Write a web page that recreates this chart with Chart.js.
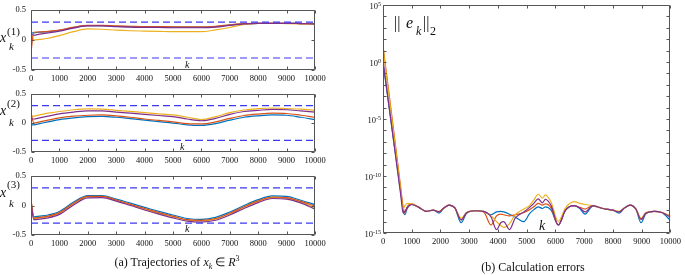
<!DOCTYPE html>
<html lang="en">
<head>
<meta charset="UTF-8">
<title>Trajectories and calculation errors</title>
<style>
    body { margin: 0; background: #fff; font-family: 'Liberation Serif', 'Times New Roman', serif; color: #111; }
    .stage { position: relative; width: 685px; height: 275px; overflow: hidden; }
    .box { position: absolute; }
    .txt { position: absolute; line-height: 1; white-space: nowrap; }
    .it { font-style: italic; }
</style>
</head>
<body>
<div class="stage">
    <div class="box" style="left:0;top:0;width:330px;height:86px"><canvas id="x1Chart"></canvas></div>
    <div class="box" style="left:0;top:84px;width:330px;height:84px"><canvas id="x2Chart"></canvas></div>
    <div class="box" style="left:0;top:166px;width:330px;height:85px"><canvas id="x3Chart"></canvas></div>
    <div class="box" style="left:330px;top:0;width:355px;height:250px"><canvas id="errChart"></canvas></div>

    <!-- axis labels -->
    <span class="txt it" style="left:0;top:31.3px;font-size:14px">x</span>
    <span class="txt" style="left:7px;top:25.8px;font-size:11px">(1)</span>
    <span class="txt it" style="left:9px;top:40.8px;font-size:11px">k</span>

    <span class="txt it" style="left:0;top:104.3px;font-size:14px">x</span>
    <span class="txt" style="left:7px;top:97.8px;font-size:11px">(2)</span>
    <span class="txt it" style="left:9px;top:117.3px;font-size:11px">k</span>

    <span class="txt it" style="left:0;top:186.3px;font-size:14px">x</span>
    <span class="txt" style="left:7px;top:178.8px;font-size:11px">(3)</span>
    <span class="txt it" style="left:9px;top:198.3px;font-size:11px">k</span>

    <span class="txt it" style="left:185px;top:59.6px;font-size:10px">k</span>
    <span class="txt it" style="left:180px;top:141.6px;font-size:10px">k</span>
    <span class="txt it" style="left:185px;top:223.6px;font-size:10px">k</span>
    <span class="txt it" style="left:539px;top:219px;font-size:14px">k</span>

    <span class="txt" style="left:394px;top:15px;font-size:16px">||</span>
    <span class="txt it" style="left:406px;top:15px;font-size:16px">e</span>
    <span class="txt it" style="left:416px;top:25px;font-size:12px">k</span>
    <span class="txt" style="left:423px;top:15px;font-size:16px">||</span>
    <span class="txt" style="left:430px;top:25px;font-size:12px">2</span>

    <!-- captions -->
    <div class="txt" style="left:0;width:354px;top:255px;font-size:12px;text-align:center">(a) Trajectories of <i>x<sub style="font-size:8px">k</sub></i> &isin; <i>R</i><sup style="font-size:8px">3</sup></div>
    <div class="txt" style="left:330px;width:406px;top:261px;font-size:12px;text-align:center">(b) Calculation errors</div>
</div>

<script src="https://cdn.jsdelivr.net/npm/chart.js@4.4.0/dist/chart.umd.min.js"></script>
<script>
    // sample points along k for the trajectories
    const kSteps = [0, 100, 300, 600, 1000, 1500, 2000, 2500, 3000, 3500, 4000, 4500, 5000, 5500, 6000, 6500, 7000, 7500, 8000, 8500, 9000, 9500, 10000];

    const x1Blue   = [0.12, 0.12, 0.13, 0.14, 0.16, 0.21, 0.24, 0.24, 0.23, 0.225, 0.22, 0.22, 0.215, 0.215, 0.215, 0.225, 0.25, 0.27, 0.28, 0.28, 0.28, 0.275, 0.27];
    const x1Red    = [-0.2, 0.13, 0.135, 0.145, 0.165, 0.215, 0.245, 0.245, 0.235, 0.23, 0.225, 0.225, 0.22, 0.22, 0.22, 0.23, 0.255, 0.275, 0.28, 0.28, 0.28, 0.275, 0.27];
    const x1Yellow = [0.12, 0.0, 0.01, 0.03, 0.075, 0.14, 0.185, 0.18, 0.165, 0.155, 0.15, 0.145, 0.14, 0.14, 0.14, 0.17, 0.21, 0.26, 0.28, 0.28, 0.275, 0.27, 0.265];
    const x1Purple = [0.1, 0.08, 0.1, 0.12, 0.15, 0.2, 0.235, 0.235, 0.225, 0.215, 0.21, 0.21, 0.205, 0.205, 0.205, 0.215, 0.245, 0.27, 0.28, 0.28, 0.28, 0.275, 0.27];

    const x2Blue   = [-0.03, -0.03, -0.01, 0.02, 0.06, 0.09, 0.11, 0.115, 0.1, 0.075, 0.05, 0.025, 0.0, -0.03, -0.04, -0.01, 0.05, 0.1, 0.125, 0.14, 0.135, 0.1, 0.06];
    const x2Red    = [0.17, 0.0, 0.02, 0.05, 0.09, 0.12, 0.135, 0.14, 0.125, 0.1, 0.07, 0.045, 0.02, -0.01, -0.015, 0.02, 0.08, 0.13, 0.155, 0.17, 0.165, 0.135, 0.1];
    const x2Yellow = [0.12, 0.12, 0.14, 0.17, 0.2, 0.23, 0.245, 0.24, 0.22, 0.2, 0.18, 0.16, 0.14, 0.1, 0.06, 0.11, 0.18, 0.225, 0.25, 0.26, 0.25, 0.24, 0.22];
    const x2Purple = [0.07, 0.07, 0.09, 0.12, 0.16, 0.19, 0.21, 0.21, 0.19, 0.17, 0.15, 0.13, 0.11, 0.07, 0.04, 0.08, 0.15, 0.2, 0.22, 0.235, 0.23, 0.21, 0.19];

    const x3Blue   = [0.08, -0.19, -0.18, -0.16, -0.1, 0.06, 0.17, 0.17, 0.11, 0.04, -0.03, -0.1, -0.16, -0.22, -0.235, -0.2, -0.11, 0.0, 0.1, 0.165, 0.155, 0.09, 0.015];
    const x3Red    = [0.1, -0.21, -0.2, -0.18, -0.12, 0.04, 0.155, 0.155, 0.095, 0.02, -0.05, -0.12, -0.18, -0.24, -0.25, -0.22, -0.13, -0.02, 0.08, 0.145, 0.135, 0.07, -0.01];
    const x3Yellow = [0.09, -0.22, -0.21, -0.19, -0.13, 0.03, 0.145, 0.15, 0.09, 0.015, -0.06, -0.13, -0.19, -0.245, -0.26, -0.23, -0.14, -0.03, 0.07, 0.135, 0.125, 0.06, -0.04];
    const x3Purple = [0.05, -0.24, -0.23, -0.21, -0.15, 0.01, 0.13, 0.135, 0.075, 0.0, -0.075, -0.145, -0.21, -0.265, -0.28, -0.25, -0.16, -0.05, 0.05, 0.12, 0.11, 0.045, -0.06];

    // constraint bounds (dashed lines)
    const boundVals = [0.3, -0.3];
    const boundK = [0, 10000];

    // calculation errors, stored as log10 of ||e_k||_2
    const errK = [0, 350, 620, 700, 760, 850, 1000, 1250, 1500, 1750, 1950, 2100, 2300, 2500, 2720, 2900, 3200, 3500, 3760, 3950, 4100, 4200, 4400, 4600, 4900, 5100, 5250, 5400, 5550, 5650, 5850, 6100, 6350, 6650, 6850, 7030, 7300, 7650, 8000, 8220, 8400, 8600, 8800, 8980, 9150, 9440, 9700, 10000];
    const errBlueLog   = [0.0, -6.5, -11.5, -13.0, -13.4, -12.8, -12.5, -12.75, -13.1, -13.0, -13.25, -12.85, -12.55, -12.8, -14.1, -13.3, -13.05, -13.1, -13.4, -13.15, -13.1, -13.15, -13.35, -13.6, -14.0, -13.3, -12.95, -12.7, -12.85, -12.7, -13.0, -14.3, -13.0, -12.6, -12.85, -13.35, -12.65, -12.85, -13.0, -13.25, -12.8, -12.55, -12.9, -14.1, -13.3, -13.1, -13.2, -13.9];
    const errRedLog    = [1.4, -5.6, -11.1, -12.7, -13.25, -12.65, -12.45, -12.75, -13.1, -13.0, -13.15, -12.85, -12.55, -12.8, -13.85, -13.25, -13.05, -13.15, -14.3, -13.5, -13.35, -13.4, -13.5, -13.4, -13.2, -12.95, -12.7, -12.4, -12.55, -12.45, -12.8, -14.3, -13.0, -12.6, -12.75, -12.9, -12.6, -12.85, -13.0, -13.15, -12.8, -12.55, -12.9, -13.8, -13.25, -13.1, -13.2, -13.5];
    const errYellowLog = [1.2, -5.85, -11.3, -12.9, -12.6, -12.4, -12.45, -12.75, -13.1, -13.0, -13.1, -12.85, -12.55, -12.8, -13.7, -13.2, -13.05, -13.1, -13.5, -14.0, -14.35, -14.5, -14.2, -13.4, -12.9, -12.6, -12.1, -11.6, -11.95, -11.65, -12.3, -14.0, -12.8, -12.25, -12.4, -12.5, -12.6, -12.85, -13.0, -13.1, -12.8, -12.55, -12.9, -13.7, -13.2, -13.1, -13.2, -13.5];
    const errPurpleLog = [0.1, -6.57, -11.72, -13.25, -13.1, -12.75, -12.5, -12.75, -13.1, -13.0, -13.15, -12.85, -12.55, -12.8, -13.85, -13.25, -13.05, -13.1, -13.6, -14.7, -14.1, -14.0, -14.7, -13.7, -13.15, -12.75, -12.4, -12.0, -12.35, -12.05, -12.6, -14.3, -13.0, -12.6, -12.8, -13.15, -12.6, -12.85, -13.0, -13.15, -12.8, -12.55, -12.9, -13.8, -13.25, -13.1, -13.2, -13.6];
    const errLabelExp = [-15, -10, -5, 0, 5];

    const COLORS = { blue: '#0072BD', red: '#D95319', yellow: '#EDB120', purple: '#7E2F8E', bound: '#3b3bf2' };
    const SERIF = "'Liberation Serif', 'Times New Roman', serif";

    // box around the axes with inward tick marks, like matlab
    const frameTicks = {
        id: 'frameTicks',
        afterDraw(chart) {
            const { ctx, chartArea: a, scales } = chart;
            const L = Math.round(a.left) + 0.5, R = Math.round(a.right) - 0.5;
            const T = Math.round(a.top) + 0.5, B = Math.round(a.bottom) - 0.5;
            ctx.save();
            ctx.strokeStyle = '#555';
            ctx.lineWidth = 1;
            ctx.beginPath();
            ctx.rect(L, T, R - L, B - T);
            scales.x.ticks.forEach(t => {
                const px = Math.round(scales.x.getPixelForValue(t.value)) + 0.5;
                ctx.moveTo(px, B); ctx.lineTo(px, B - 3);
                ctx.moveTo(px, T); ctx.lineTo(px, T + 3);
            });
            scales.y.ticks.forEach(t => {
                const py = Math.round(scales.y.getPixelForValue(t.value)) + 0.5;
                ctx.moveTo(L, py); ctx.lineTo(L + 3, py);
                ctx.moveTo(R, py); ctx.lineTo(R - 3, py);
            });
            ctx.stroke();
            ctx.restore();
        }
    };

    // 10^n labels for the log axis
    const powerLabels = {
        id: 'powerLabels',
        afterDraw(chart) {
            if (chart.canvas.id !== 'errChart') return;
            const { ctx, chartArea: a, scales } = chart;
            ctx.save();
            ctx.fillStyle = '#111';
            ctx.textBaseline = 'alphabetic';
            errLabelExp.forEach(e => {
                const py = scales.y.getPixelForValue(Math.pow(10, e));
                const expTxt = String(e);
                ctx.font = '6px ' + SERIF;
                const ew = ctx.measureText(expTxt).width;
                const right = a.left - 2;
                ctx.textAlign = 'left';
                ctx.fillText(expTxt, right - ew, py + 0.5);
                ctx.font = '8.5px ' + SERIF;
                ctx.textAlign = 'right';
                ctx.fillText('10', right - ew, py + 4);
            });
            ctx.restore();
        }
    };

    function line(label, xs, ys, color, order) {
        return {
            label: label,
            data: xs.map((k, i) => ({ x: k, y: ys[i] })),
            borderColor: color,
            borderWidth: 1.2,
            pointRadius: 0,
            cubicInterpolationMode: 'monotone',
            order: order
        };
    }

    function bound(v) {
        return {
            label: 'bound',
            data: boundK.map(k => ({ x: k, y: v })),
            borderColor: COLORS.bound,
            borderWidth: 1.2,
            borderDash: [7, 4],
            pointRadius: 0,
            order: 0
        };
    }

    const tickFont = { family: SERIF, size: 8.5 };

    function trajChart(id, blue, red, yellow, purple) {
        return new Chart(document.getElementById(id), {
            type: 'line',
            data: {
                datasets: [
                    line('1', kSteps, blue, COLORS.blue, 4),
                    line('2', kSteps, red, COLORS.red, 2),
                    line('3', kSteps, yellow, COLORS.yellow, 3),
                    line('4', kSteps, purple, COLORS.purple, 1),
                    bound(boundVals[0]),
                    bound(boundVals[1])
                ]
            },
            options: {
                responsive: true,
                maintainAspectRatio: false,
                animation: false,
                layout: { padding: { top: 9, right: 15, left: 0, bottom: 0 } },
                plugins: { legend: { display: false }, tooltip: { enabled: false } },
                scales: {
                    x: {
                        type: 'linear', min: 0, max: 10000,
                        grid: { display: false, drawTicks: false }, border: { display: false },
                        ticks: { stepSize: 1000, maxRotation: 0, padding: 4, color: '#111', font: tickFont, callback: v => String(v) },
                        afterFit: s => { s.height = 16; }
                    },
                    y: {
                        min: -0.5, max: 0.5,
                        grid: { display: false, drawTicks: false }, border: { display: false },
                        ticks: { stepSize: 0.5, padding: 5, color: '#111', font: tickFont, callback: v => String(v) },
                        afterFit: s => { s.width = 31; }
                    }
                }
            },
            plugins: [frameTicks]
        });
    }

    trajChart('x1Chart', x1Blue, x1Red, x1Yellow, x1Purple);
    trajChart('x2Chart', x2Blue, x2Red, x2Yellow, x2Purple);
    trajChart('x3Chart', x3Blue, x3Red, x3Yellow, x3Purple);

    const toErr = arr => arr.map(v => Math.pow(10, v));

    new Chart(document.getElementById('errChart'), {
        type: 'line',
        data: {
            datasets: [
                line('1', errK, toErr(errBlueLog), COLORS.blue, 4),
                line('2', errK, toErr(errRedLog), COLORS.red, 3),
                line('3', errK, toErr(errYellowLog), COLORS.yellow, 2),
                line('4', errK, toErr(errPurpleLog), COLORS.purple, 1)
            ]
        },
        options: {
            responsive: true,
            maintainAspectRatio: false,
            animation: false,
            layout: { padding: { top: 5, right: 12, left: 0, bottom: 0 } },
            plugins: { legend: { display: false }, tooltip: { enabled: false } },
            scales: {
                x: {
                    type: 'linear', min: 0, max: 10000,
                    grid: { display: false, drawTicks: false }, border: { display: false },
                    ticks: { stepSize: 1000, maxRotation: 0, padding: 4, color: '#111', font: tickFont, callback: v => String(v) },
                    afterFit: s => { s.height = 17; }
                },
                y: {
                    type: 'logarithmic', min: 1e-15, max: 1e5,
                    grid: { display: false, drawTicks: false }, border: { display: false },
                    ticks: { display: false },
                    afterBuildTicks: s => {
                        const t = [];
                        for (let e = -15; e <= 5; e++) t.push({ value: Math.pow(10, e) });
                        s.ticks = t;
                    },
                    afterFit: s => { s.width = 53; }
                }
            }
        },
        plugins: [frameTicks, powerLabels]
    });
</script>
</body>
</html>
